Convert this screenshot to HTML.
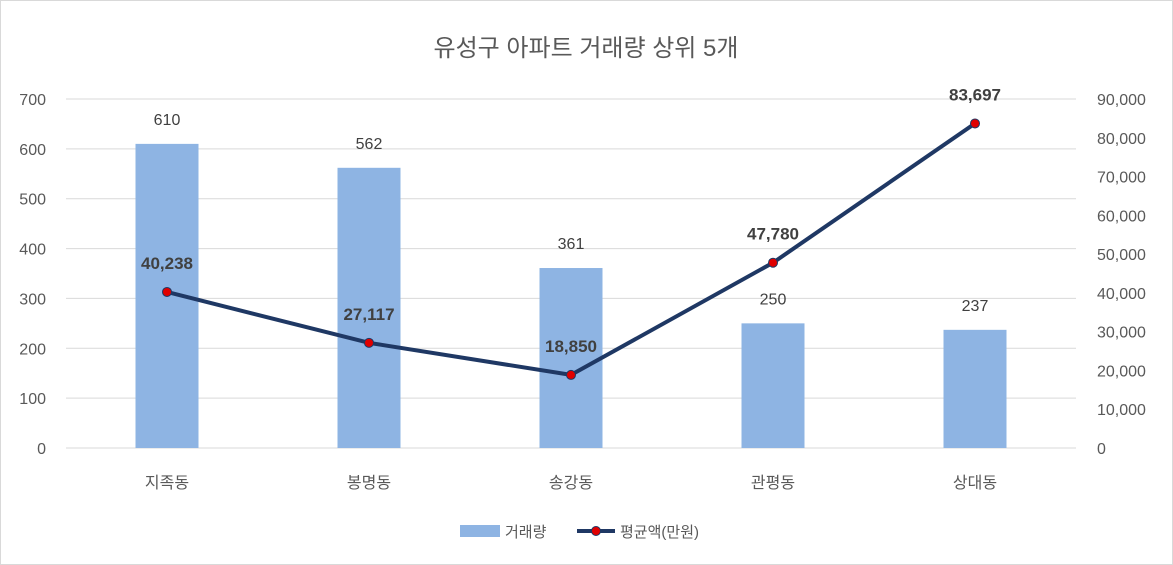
<!DOCTYPE html>
<html><head><meta charset="utf-8">
<style>
body{margin:0;background:#fff;}
svg{display:block;font-family:"Liberation Sans","Noto Sans CJK KR",sans-serif;}
</style></head>
<body>
<svg id="chart" width="1173" height="565" xmlns="http://www.w3.org/2000/svg">
<rect x="0.5" y="0.5" width="1172" height="564" fill="#fff" stroke="#d9d9d9"/>
<text x="586" y="56" text-anchor="middle" font-size="24" fill="#595959">유성구 아파트 거래량 상위 5개</text>
<g id="grid"></g><g id="bars"></g><g id="line"></g><g id="labels"></g>
<g>
<rect x="460" y="525" width="40" height="12" fill="#8eb4e3"/>
<text x="505" y="537" font-size="15" fill="#595959">거래량</text>
<line x1="577" y1="531" x2="615" y2="531" stroke="#1f3864" stroke-width="4"/>
<circle cx="596" cy="531" r="4.5" fill="#e00000" stroke="#1f3864" stroke-width="1"/>
<text x="620" y="537" font-size="15" fill="#595959">평균액(만원)</text>
</g>
</svg>
<script>
const categories=["지족동","봉명동","송강동","관평동","상대동"];
const volumes=[610,562,361,250,237];
const prices=[40238,27117,18850,47780,83697];
const leftTicks=[0,100,200,300,400,500,600,700];
const rightTicks=[0,10000,20000,30000,40000,50000,60000,70000,80000,90000];
const NS="http://www.w3.org/2000/svg";
const x0=66,x1=1076,yB=448,yT=99;
const band=(x1-x0)/categories.length;
const xC=i=>x0+band*(i+0.5);
const yL=v=>yB-(v/700)*(yB-yT);
const yR=v=>yB-(v/90000)*(yB-yT);
function mk(tag,attrs,parent,txt){const e=document.createElementNS(NS,tag);for(const k in attrs)e.setAttribute(k,attrs[k]);if(txt!==undefined)e.textContent=txt;document.getElementById(parent).appendChild(e);return e;}
const fmt=v=>v.toLocaleString("en-US");
leftTicks.forEach(t=>{
  const g=mk("line",{x1:x0,x2:x1,y1:yL(t),y2:yL(t),stroke:"#d9d9d9","stroke-width":1},"grid");
  
  
  const l=mk("text",{x:46,y:yL(t)+6,"text-anchor":"end","font-size":16,fill:"#595959"},"grid",String(t));
  
  
});
rightTicks.forEach(t=>{
  const l=mk("text",{x:1097,y:yR(t)+6,"font-size":16,fill:"#595959"},"grid",fmt(t));
  
  
});
categories.forEach((c,i)=>{
  const b=mk("rect",{x:xC(i)-31.5,y:yL(volumes[i]),width:63,height:yB-yL(volumes[i]),fill:"#8eb4e3"},"bars");
  
  
  const v=mk("text",{x:xC(i),y:yL(volumes[i])-19,"text-anchor":"middle","font-size":16,fill:"#404040"},"labels",String(volumes[i]));
  
  
  const cl=mk("text",{x:xC(i),y:488,"text-anchor":"middle","font-size":16,fill:"#595959"},"labels",c);
  
  
});
const pts=prices.map((p,i)=>xC(i)+","+yR(p)).join(" ");
const pl=mk("polyline",{points:pts,fill:"none",stroke:"#1f3864","stroke-width":4,"stroke-linejoin":"round"},"line");


prices.forEach((p,i)=>{
  const c=mk("circle",{cx:xC(i),cy:yR(p),r:4.5,fill:"#e00000",stroke:"#1f3864","stroke-width":1},"line");
  
  
  const t=mk("text",{x:xC(i),y:yR(p)-23,"text-anchor":"middle","font-size":17,"font-weight":"bold",fill:"#404040"},"labels",fmt(p));
  
  
});
</script>
</body></html>
